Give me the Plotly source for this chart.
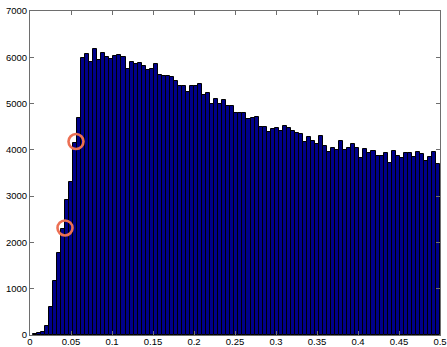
import plotly.graph_objects as go

# Histogram bin definition (101 bins)
bin_start = 0.0034
bin_width = 0.004917

counts = [20, 35, 65, 201, 604, 1158, 1770, 2290, 2907, 3295, 4144, 4684, 5993,
          6070, 5892, 6173, 5943, 6090, 6015, 5972, 6036, 6058, 6007,
          5749, 5893, 5856, 5871, 5806, 5730, 5749, 5849, 5626, 5590,
          5605, 5583, 5482, 5381, 5381, 5245, 5389, 5389, 5420, 5190,
          5223, 4985, 5101, 4983, 5083, 4940, 4940, 4805, 4805, 4805,
          4670, 4688, 4705, 4504, 4504, 4385, 4454, 4476, 4418, 4518,
          4468, 4410, 4375, 4353, 4180, 4288, 4202, 4130, 4310, 4087,
          3950, 4051, 4000, 4195, 4000, 4036, 4130, 4051, 3820, 4015,
          3928, 3986, 3871, 3871, 3943, 3712, 3986, 3871, 3820, 3943,
          3928, 3835, 3964, 3907, 3770, 3842, 3950, 3691]

x_ticks = [0, 0.05, 0.1, 0.15, 0.2, 0.25, 0.3, 0.35, 0.4, 0.45, 0.5]
x_ticklabels = ["0", "0.05", "0.1", "0.15", "0.2", "0.25", "0.3", "0.35", "0.4", "0.45", "0.5"]
y_ticks = [0, 1000, 2000, 3000, 4000, 5000, 6000, 7000]
y_ticklabels = ["0", "1000", "2000", "3000", "4000", "5000", "6000", "7000"]

# highlighted points (red circles)
circle_x = [0.0427, 0.0561]
circle_y = [2312, 4180]

centers = [bin_start + bin_width * (k + 0.5) for k in range(len(counts))]

fig = go.Figure()
fig.add_trace(go.Bar(
    x=centers, y=counts, width=bin_width,
    marker=dict(color="#00008A", line=dict(color="black", width=1)),
    showlegend=False,
))
fig.add_trace(go.Scatter(
    x=circle_x, y=circle_y, mode="markers",
    marker=dict(symbol="circle-open", size=15, color="#EC7054",
                line=dict(width=2.6, color="#EC7054")),
    showlegend=False, cliponaxis=False,
))

axis_common = dict(
    showline=True, linecolor="#6e6e6e", linewidth=1, mirror="allticks",
    ticks="inside", ticklen=4, tickcolor="#6e6e6e", tickwidth=1,
    showgrid=False, zeroline=False, automargin=False,
    tickfont=dict(family="Liberation Sans, Arial, sans-serif", size=9.5, color="black"),
)

fig.update_layout(
    template="none",
    width=447, height=347,
    margin=dict(l=30, r=7, t=11, b=12),
    paper_bgcolor="white", plot_bgcolor="white",
    bargap=0,
    xaxis=dict(range=[0, 0.5], tickmode="array", tickvals=x_ticks,
               ticktext=x_ticklabels, ticklabelstandoff=-2, **axis_common),
    yaxis=dict(range=[0, 7000], tickmode="array", tickvals=y_ticks,
               ticktext=y_ticklabels, ticklabelstandoff=0, **axis_common),
)

fig.write_html("out.html")
